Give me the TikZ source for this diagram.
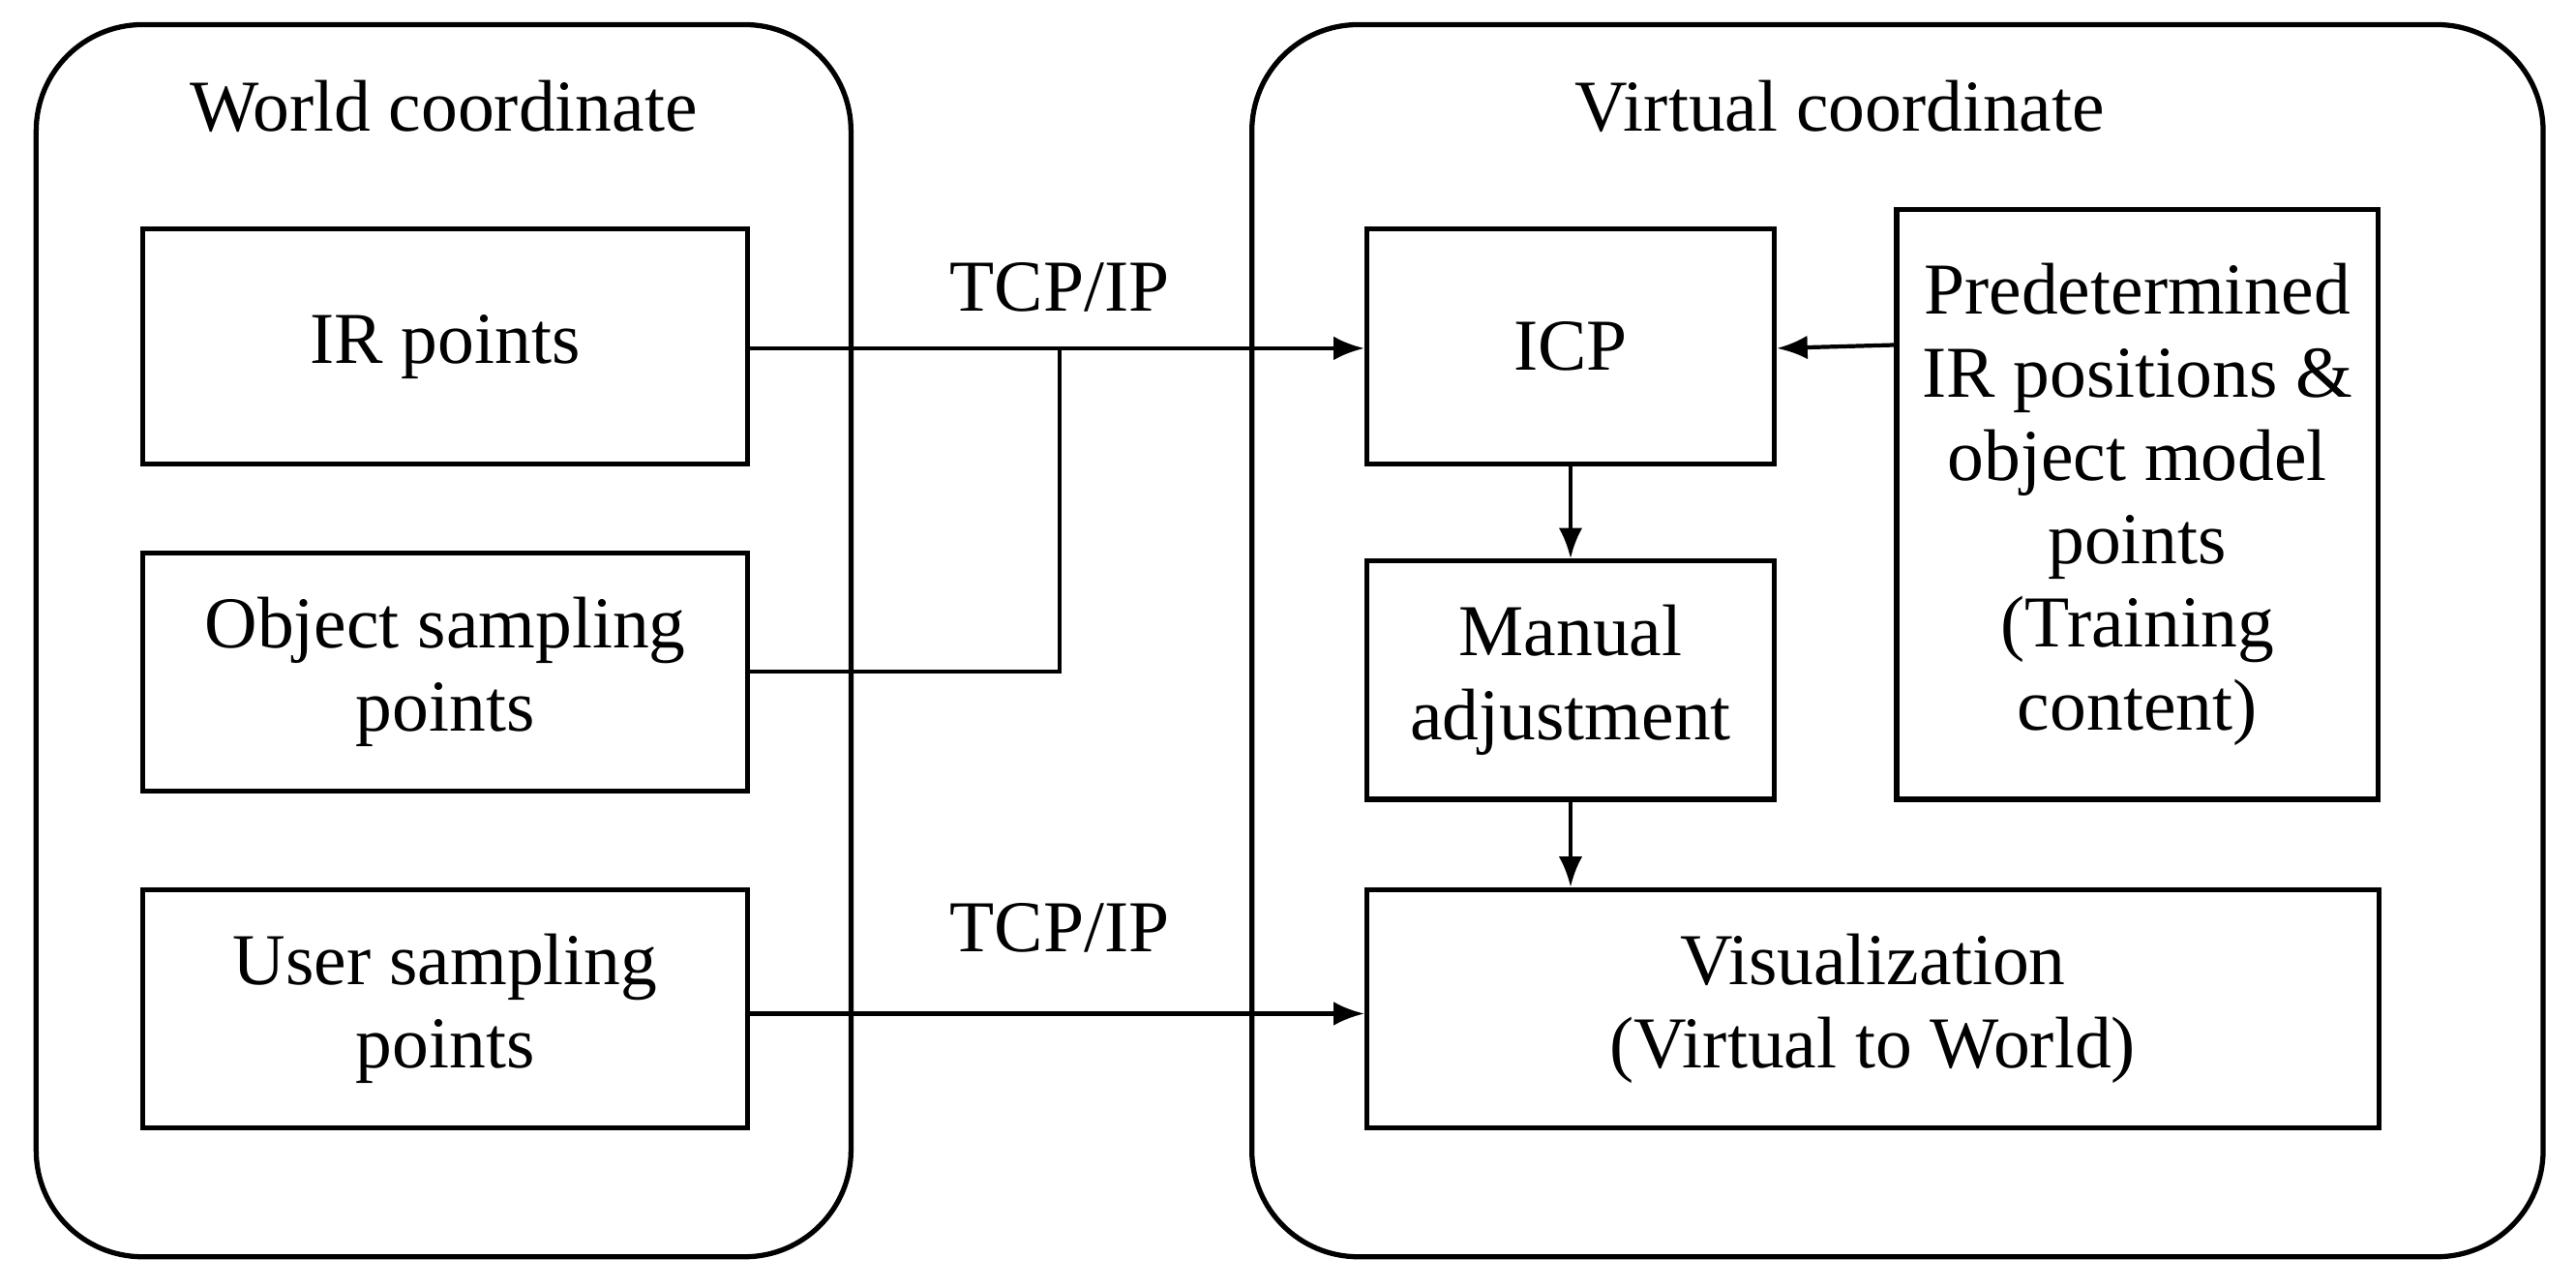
\documentclass[tikz,border=0pt]{standalone}
\usepackage{fontspec}
\setmainfont{Liberation Serif}
\usetikzlibrary{arrows.meta}
\begin{document}
\begin{tikzpicture}[x=0.01698cm,y=-0.01698cm,
  frame/.style={draw,line width=1.5pt,rounded corners=1.1cm},
  box/.style={draw,line width=1.5pt,align=center,font=\fontsize{21.5}{24.5}\selectfont,inner sep=0pt},
  arr/.style={line width=1.2pt,-{Latex[length=9pt,width=7pt]}},
  lbl/.style={font=\fontsize{21.5}{24.5}\selectfont}]
\useasboundingbox (0,0) rectangle (1568,784);
\draw[frame] (22,15) rectangle (518,765);
\draw[frame] (762,15) rectangle (1548,765);
\node[lbl] (wt) at (270,65) {World coordinate};
\node[lbl] (vt) at (1120,65) {Virtual coordinate};
\node[box,minimum width=368*0.01698cm,minimum height=143*0.01698cm] (ir) at (271,211) {IR points};
\node[box,minimum width=368*0.01698cm,minimum height=145*0.01698cm] (obj) at (271,409) {Object sampling\\points};
\node[box,minimum width=368*0.01698cm,minimum height=145*0.01698cm] (usr) at (271,614) {User sampling\\points};
\node[box,minimum width=248*0.01698cm,minimum height=143*0.01698cm] (icp) at (956,211) {ICP};
\node[box,minimum width=248*0.01698cm,minimum height=145*0.01698cm] (man) at (956,414) {Manual\\adjustment};
\node[box,minimum width=293*0.01698cm,minimum height=359*0.01698cm] (pre) at (1301,307) {Predetermined\\IR positions \&\\object model\\points\\(Training\\content)};
\node[box,minimum width=616*0.01698cm,minimum height=145*0.01698cm] (vis) at (1140,614) {Visualization\\(Virtual to World)};
\coordinate (j) at (645,212);
\draw[arr] (ir.east|-j) -- (icp.west|-j);
\draw[line width=1.2pt] (obj.east) -- (645,409) -- (j);
\draw[arr] (usr.east|-0,617) -- (vis.west|-0,617);
\draw[arr] (pre.west|-0,210) -- (icp.east|-0,212);
\draw[arr] (icp) -- (man);
\draw[arr] (man) -- (vis.north-|man);
\node[lbl] (t1) at (645,175) {TCP/IP};
\node[lbl] (t2) at (645,565) {TCP/IP};
\end{tikzpicture}
\end{document}
